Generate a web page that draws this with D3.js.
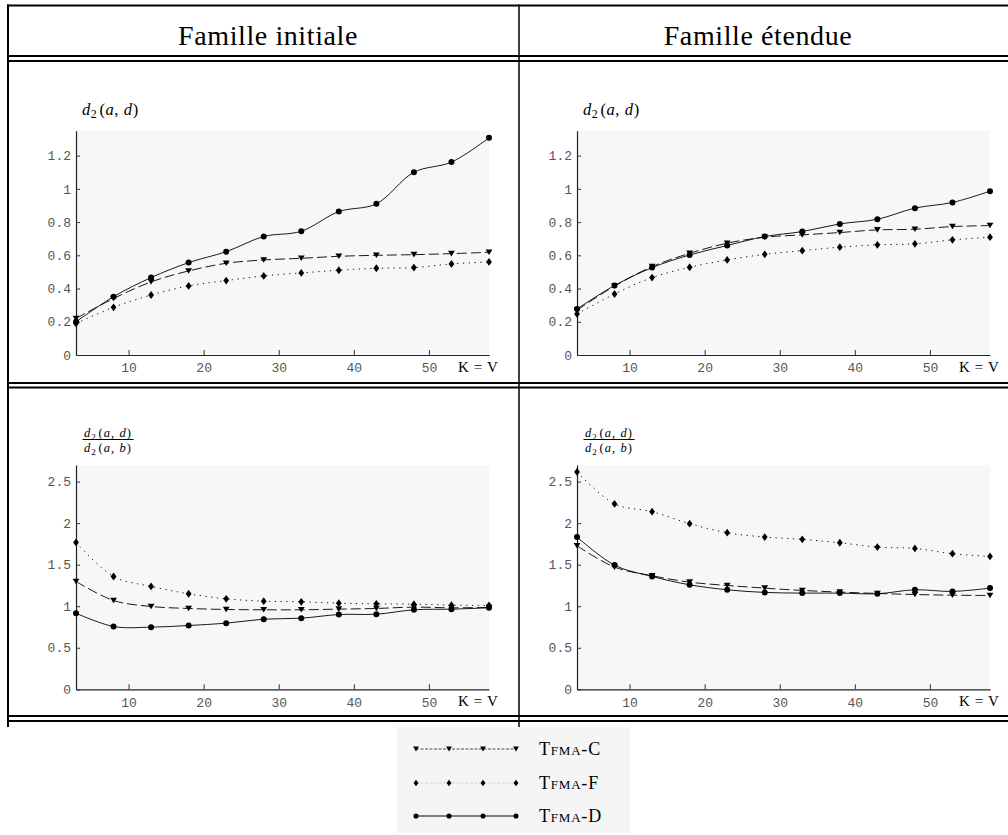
<!DOCTYPE html>
<html>
<head>
<meta charset="utf-8">
<script src="https://cdn.jsdelivr.net/npm/d3@7"></script>
<style>
  html, body { margin: 0; padding: 0; background: #fff; }
  svg { display: block; }
  .tick text { font-family: "Liberation Mono", "DejaVu Sans Mono", monospace; font-size: 13px; fill: #555; }
</style>
</head>
<body>
<svg id="chart" width="1008" height="835"></svg>
<script>
// ---- data ----------------------------------------------------------------
const kValues = [3, 8, 13, 18, 23, 28, 33, 38, 43, 48, 53, 58];
const xTicks = [10, 20, 30, 40, 50];
const distTicks = [0, 0.2, 0.4, 0.6, 0.8, 1, 1.2];
const ratioTicks = [0, 0.5, 1, 1.5, 2, 2.5];
const columnTitles = ["Famille initiale", "Famille étendue"];
const seriesNames = ["Tfma-C", "Tfma-F", "Tfma-D"];

// d2(a,d), initial family
const initDistC = [0.22, 0.34, 0.44, 0.506, 0.552, 0.572, 0.582, 0.594, 0.600, 0.604, 0.610, 0.618];
const initDistF = [0.19, 0.287, 0.361, 0.416, 0.448, 0.476, 0.494, 0.510, 0.522, 0.526, 0.548, 0.560];
const initDistD = [0.20, 0.351, 0.466, 0.556, 0.622, 0.713, 0.745, 0.863, 0.910, 1.100, 1.161, 1.307];
// d2(a,d), extended family
const extDistC = [0.27, 0.415, 0.532, 0.612, 0.673, 0.709, 0.723, 0.737, 0.753, 0.757, 0.773, 0.779];
const extDistF = [0.247, 0.367, 0.466, 0.528, 0.572, 0.606, 0.628, 0.649, 0.663, 0.669, 0.693, 0.709];
const extDistD = [0.277, 0.418, 0.526, 0.602, 0.659, 0.713, 0.743, 0.789, 0.817, 0.884, 0.918, 0.986];
// d2(a,d)/d2(a,b), initial family
const initRatioC = [1.298, 1.069, 0.997, 0.973, 0.961, 0.957, 0.957, 0.965, 0.973, 0.989, 0.981, 0.985];
const initRatioF = [1.768, 1.358, 1.238, 1.150, 1.089, 1.061, 1.053, 1.037, 1.029, 1.025, 1.013, 1.009];
const initRatioD = [0.916, 0.756, 0.748, 0.768, 0.796, 0.844, 0.856, 0.900, 0.904, 0.957, 0.965, 0.981];
// d2(a,d)/d2(a,b), extended family
const extRatioC = [1.728, 1.471, 1.367, 1.290, 1.250, 1.218, 1.190, 1.170, 1.154, 1.141, 1.133, 1.129];
const extRatioF = [2.617, 2.231, 2.138, 1.994, 1.885, 1.833, 1.805, 1.764, 1.712, 1.696, 1.632, 1.600];
const extRatioD = [1.833, 1.495, 1.358, 1.258, 1.198, 1.166, 1.158, 1.158, 1.150, 1.198, 1.178, 1.218];

// ---- layout --------------------------------------------------------------
const svg = d3.select("#chart");
const serif = '"Liberation Serif", "DejaVu Serif", serif';

const seriesStyle = [
  { dash: "10,4", marker: "tri" },
  { dash: "1.3,4.5", marker: "diamond" },
  { dash: null, marker: "circle" }
];

const panels = [
  { x0: 76, x1: 489, y0: 130.7, y1: 355, ymax: 1.35, ticks: distTicks, kind: "dist", series: [initDistC, initDistF, initDistD] },
  { x0: 577, x1: 990, y0: 130.7, y1: 355, ymax: 1.35, ticks: distTicks, kind: "dist", series: [extDistC, extDistF, extDistD] },
  { x0: 76, x1: 489, y0: 465, y1: 689.3, ymax: 2.7, ticks: ratioTicks, kind: "ratio", series: [initRatioC, initRatioF, initRatioD] },
  { x0: 577, x1: 990, y0: 465, y1: 689.3, ymax: 2.7, ticks: ratioTicks, kind: "ratio", series: [extRatioC, extRatioF, extRatioD] }
];

function drawMarker(g, type, x, y, s) {
  if (type === "circle") {
    g.append("circle").attr("cx", x).attr("cy", y).attr("r", 3 * s).attr("fill", "#000");
  } else if (type === "tri") {
    const w = 3.4 * s, h = 5.6 * s;
    g.append("path")
      .attr("d", `M${x - w},${y - h / 2}L${x + w},${y - h / 2}L${x},${y + h / 2}Z`)
      .attr("fill", "#000");
  } else {
    const w = 2.9 * s, h = 3.9 * s;
    g.append("path")
      .attr("d", `M${x},${y - h}L${x + w},${y}L${x},${y + h}L${x - w},${y}Z`)
      .attr("fill", "#000");
  }
}

// d2(a,x) label built from tspans
function distLabel(sel, x, y, size, last, spacing) {
  const t = sel.append("text").attr("x", x).attr("y", y)
    .style("font-family", serif).style("font-size", size + "px")
    .style("letter-spacing", spacing + "px").attr("fill", "#000");
  t.append("tspan").style("font-style", "italic").text("d");
  t.append("tspan").attr("dy", size * 0.22).style("font-size", (size * 0.72) + "px").text("2");
  t.append("tspan").attr("dy", -size * 0.22).attr("dx", size * 0.12).text("(");
  t.append("tspan").style("font-style", "italic").text("a");
  t.append("tspan").text(", ");
  t.append("tspan").style("font-style", "italic").text(last);
  t.append("tspan").text(")");
  return t;
}

panels.forEach(p => {
  const x = d3.scaleLinear().domain([3, 58]).range([p.x0, p.x1]);
  const y = d3.scaleLinear().domain([0, p.ymax]).range([p.y1, p.y0]);
  const g = svg.append("g");

  g.append("rect").attr("x", p.x0).attr("y", p.y0)
    .attr("width", p.x1 - p.x0).attr("height", p.y1 - p.y0).attr("fill", "#f7f7f7");

  const xAxis = g.append("g").attr("transform", `translate(0,${p.y1})`)
    .call(d3.axisBottom(x).tickValues(xTicks).tickSizeInner(-5).tickSizeOuter(0).tickPadding(8).tickFormat(d3.format("d")));
  const yAxis = g.append("g").attr("transform", `translate(${p.x0},0)`)
    .call(d3.axisLeft(y).tickValues(p.ticks).tickSizeInner(-4).tickSizeOuter(0).tickPadding(5).tickFormat(d => String(d)));
  [xAxis, yAxis].forEach(a => {
    a.select(".domain").attr("stroke", "#222").attr("stroke-width", 1.2);
    a.selectAll(".tick line").attr("stroke", "#333");
  });

  g.append("text").attr("x", p.x1 - 31).attr("y", p.y1 + 17)
    .style("font-family", serif).style("font-size", "15px").style("letter-spacing", "0.6px").text("K = V");

  // y-axis title
  if (p.kind === "dist") {
    distLabel(g, p.x0 + 6, p.y0 - 16, 16.5, "d", 0.6);
  } else {
    const cx = p.x0 + 32;
    distLabel(g, cx, p.y0 - 28, 12.5, "d", 1.1).attr("text-anchor", "middle");
    distLabel(g, cx, p.y0 - 13, 12.5, "b", 1.1).attr("text-anchor", "middle");
    g.append("line").attr("x1", cx - 25.5).attr("x2", cx + 25.5)
      .attr("y1", p.y0 - 25.5).attr("y2", p.y0 - 25.5).attr("stroke", "#000").attr("stroke-width", 1);
  }

  const line = d3.line().x((d, i) => x(kValues[i])).y(d => y(d)).curve(d3.curveCatmullRom.alpha(0.5));
  p.series.forEach((vals, si) => {
    const st = seriesStyle[si];
    g.append("path").attr("d", line(vals)).attr("fill", "none")
      .attr("stroke", "#000").attr("stroke-width", 0.9)
      .attr("stroke-dasharray", st.dash);
  });
  p.series.forEach((vals, si) => {
    vals.forEach((v, i) => drawMarker(g, seriesStyle[si].marker, x(kValues[i]), y(v), 1));
  });
});

// ---- table rules -----------------------------------------------------------
const rules = svg.append("g").attr("stroke", "#000");
[5.5, 56, 61, 383, 387.5, 716, 721].forEach(yy => {
  rules.append("line").attr("x1", 7).attr("x2", 1008).attr("y1", yy).attr("y2", yy).attr("stroke-width", 2);
});
rules.append("line").attr("x1", 8).attr("x2", 8).attr("y1", 4.5).attr("y2", 727).attr("stroke-width", 2);
rules.append("line").attr("x1", 519).attr("x2", 519).attr("y1", 4.5).attr("y2", 727).attr("stroke-width", 1.5);

// column headings
[268, 758].forEach((cx, i) => {
  svg.append("text").attr("x", cx).attr("y", 45).attr("text-anchor", "middle")
    .style("font-family", serif).style("font-size", "28px").style("letter-spacing", "0.6px")
    .text(columnTitles[i]);
});

// ---- legend ------------------------------------------------------------------
const leg = svg.append("g");
leg.append("rect").attr("x", 397).attr("y", 727).attr("width", 233).attr("height", 106).attr("fill", "#f5f5f5");
const legendLines = [
  { stroke: "#222", width: 0.8, dash: "3,1.5" },
  { stroke: "#c8c8c8", width: 0.8, dash: "3,1.5" },
  { stroke: "#555", width: 1.4, dash: null }
];
const legX = [416, 449, 483, 516];
[749, 783, 816].forEach((ly, i) => {
  leg.append("line").attr("x1", legX[0]).attr("x2", legX[3]).attr("y1", ly).attr("y2", ly)
    .attr("stroke", legendLines[i].stroke).attr("stroke-width", legendLines[i].width)
    .attr("stroke-dasharray", legendLines[i].dash);
  legX.forEach(lx => drawMarker(leg, seriesStyle[i].marker, lx, ly, 0.85));
  leg.append("text").attr("x", 539).attr("y", ly + 6)
    .style("font-family", serif).style("font-size", "18px").style("font-variant", "small-caps")
    .style("letter-spacing", "0.8px").text(seriesNames[i]);
});
</script>
</body>
</html>
